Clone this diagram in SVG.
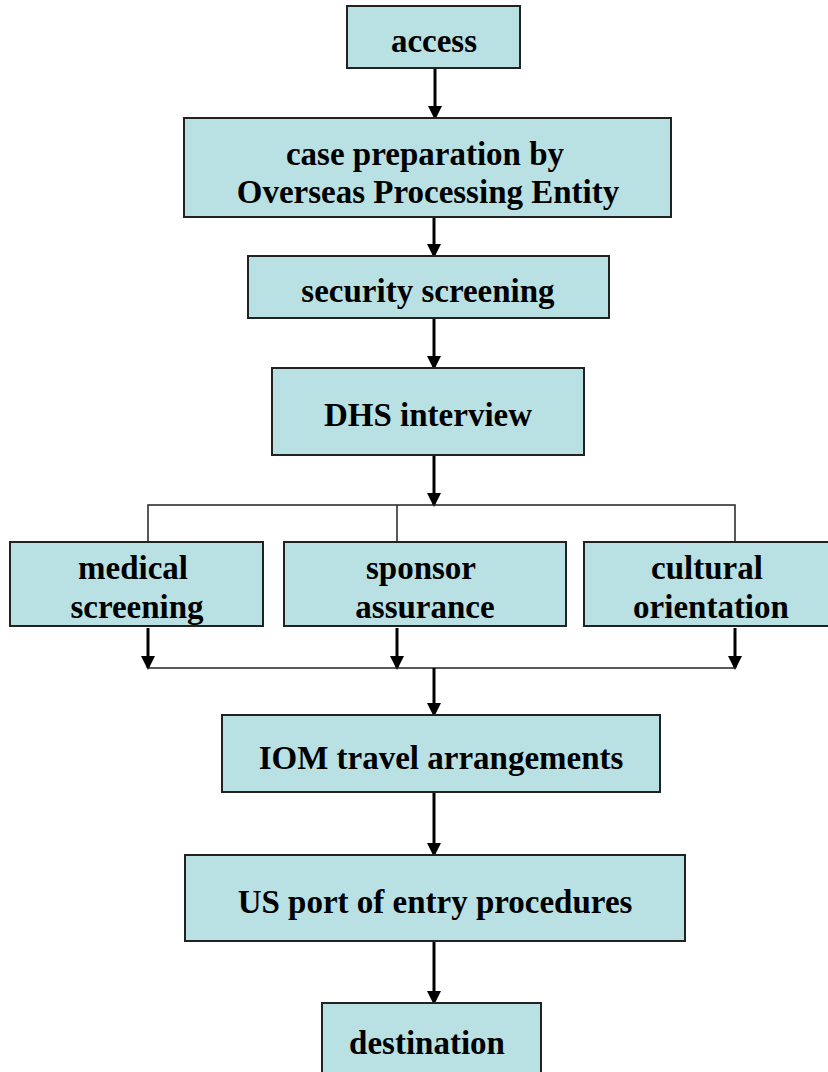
<svg xmlns="http://www.w3.org/2000/svg" width="828" height="1072" viewBox="0 0 828 1072">
<defs>
<marker id="ah" markerWidth="14" markerHeight="14" refX="12" refY="7" orient="auto" markerUnits="userSpaceOnUse">
<path d="M0,0 L14,7 L0,14 Z" fill="#000"/>
</marker>
<style>
.box{fill:#B9E0E3;stroke:#222;stroke-width:2}
.t{font-family:"Liberation Serif","Times New Roman",serif;font-weight:bold;font-size:33px;fill:#000;text-anchor:middle}
.arr{stroke:#000;stroke-width:3;fill:none;marker-end:url(#ah)}
.ln{stroke:#222;stroke-width:1.5;fill:none}
</style>
</defs>
<rect width="828" height="1072" fill="#fff"/>
<g id="connectors">
<line class="arr" x1="435" y1="68" x2="435" y2="118"/>
<line class="arr" x1="434" y1="217" x2="434" y2="256"/>
<line class="arr" x1="434" y1="318" x2="434" y2="368"/>
<line class="arr" x1="434" y1="455" x2="434" y2="505"/>
<polyline class="ln" points="148,542 148,505 735,505 735,542"/>
<line class="ln" x1="397" y1="505" x2="397" y2="542"/>
<line class="arr" x1="148" y1="628" x2="148" y2="668"/>
<line class="arr" x1="397" y1="628" x2="397" y2="668"/>
<line class="arr" x1="735" y1="628" x2="735" y2="668"/>
<line class="ln" x1="148" y1="668" x2="735" y2="668"/>
<line class="arr" x1="434" y1="668" x2="434" y2="715"/>
<line class="arr" x1="434" y1="792" x2="434" y2="855"/>
<line class="arr" x1="434" y1="941" x2="434" y2="1003"/>
</g>
<g id="access"><rect class="box" x="347" y="6" width="173" height="62"/><text class="t" x="434" y="52">access</text></g>
<g id="case"><rect class="box" x="184" y="118" width="487" height="99"/><text class="t" x="425" y="165">case preparation by</text><text class="t" x="428" y="203">Overseas Processing Entity</text></g>
<g id="security"><rect class="box" x="248" y="256" width="361" height="62"/><text class="t" x="428" y="302">security screening</text></g>
<g id="dhs"><rect class="box" x="272" y="368" width="312" height="87"/><text class="t" x="428" y="426">DHS interview</text></g>
<g id="medical"><rect class="box" x="10" y="542" width="253" height="84"/><text class="t" x="133" y="579">medical</text><text class="t" x="137" y="618">screening</text></g>
<g id="sponsor"><rect class="box" x="284" y="542" width="282" height="84"/><text class="t" x="421" y="579">sponsor</text><text class="t" x="425" y="618">assurance</text></g>
<g id="cultural"><rect class="box" x="584" y="542" width="250" height="84"/><text class="t" x="707" y="579">cultural</text><text class="t" x="711" y="618">orientation</text></g>
<g id="iom"><rect class="box" x="222" y="715" width="438" height="77"/><text class="t" x="441" y="769">IOM travel arrangements</text></g>
<g id="usport"><rect class="box" x="185" y="855" width="500" height="86"/><text class="t" x="435" y="913">US port of entry procedures</text></g>
<g id="destination"><rect class="box" x="322" y="1003" width="219" height="75"/><text class="t" x="427" y="1054">destination</text></g>
</svg>
